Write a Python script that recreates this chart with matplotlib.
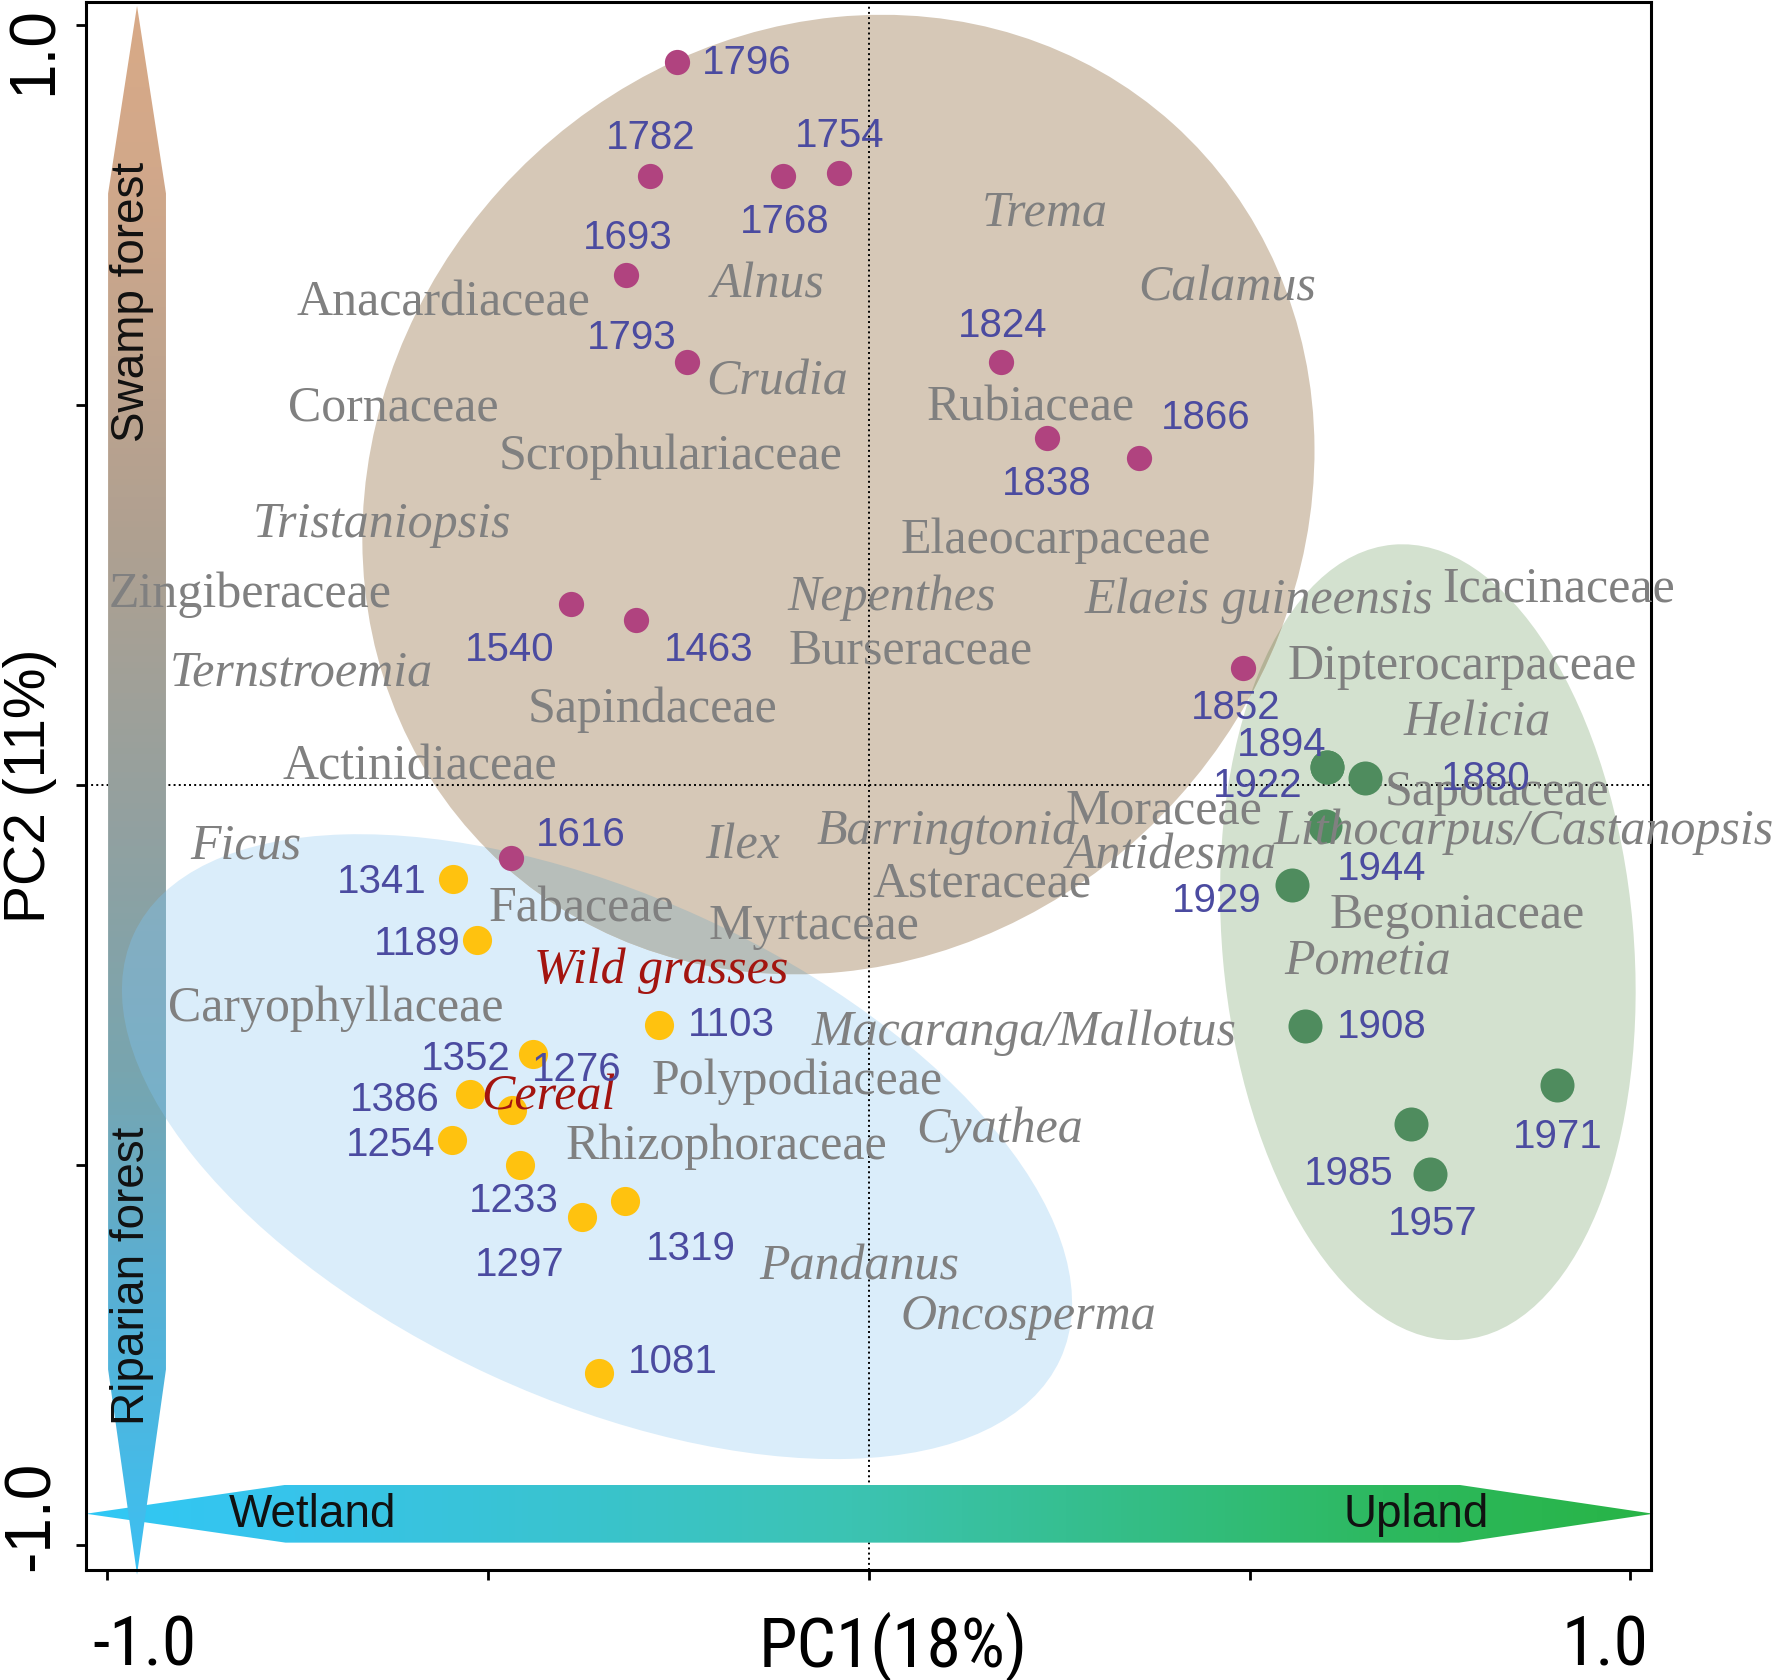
import numpy as np
import matplotlib as mpl
mpl.use('agg')
import matplotlib.pyplot as plt
from matplotlib.patches import Ellipse, Polygon
from matplotlib.colors import LinearSegmentedColormap
from matplotlib import font_manager
from matplotlib.font_manager import FontProperties

# ---- samples (PCA scores) ----
swamp_years = ['1796', '1782', '1768', '1754', '1693', '1793', '1824',
               '1838', '1866', '1540', '1463', '1852', '1616']
swamp_pc1 = [-0.252, -0.288, -0.113, -0.039, -0.319, -0.239, 0.173,
             0.234, 0.355, -0.391, -0.306, 0.491, -0.470]
swamp_pc2 = [0.951, 0.801, 0.801, 0.805, 0.671, 0.557, 0.557,
             0.457, 0.430, 0.238, 0.217, 0.154, -0.096]
swamp_lab_pc1 = [-0.161, -0.287, -0.110, -0.039, -0.316, -0.312, 0.175,
                 0.234, 0.442, -0.472, -0.210, 0.482, -0.379]
swamp_lab_pc2 = [0.955, 0.856, 0.746, 0.859, 0.725, 0.593, 0.609,
                 0.401, 0.488, 0.183, 0.183, 0.106, -0.061]

riparian_years = ['1341', '1189', '1103', '1352', '1386', '1276', '1254',
                  '1233', '1297', '1319', '1081']
riparian_pc1 = [-0.546, -0.515, -0.276, -0.441, -0.524, -0.469, -0.548,
                -0.458, -0.377, -0.320, -0.354]
riparian_pc2 = [-0.124, -0.204, -0.316, -0.354, -0.407, -0.428, -0.467,
                -0.500, -0.569, -0.548, -0.774]
riparian_lab_pc1 = [-0.639, -0.593, -0.181, -0.530, -0.622, -0.384, -0.628,
                    -0.466, -0.458, -0.234, -0.258]
riparian_lab_pc2 = [-0.123, -0.204, -0.311, -0.356, -0.409, -0.370, -0.469,
                    -0.542, -0.627, -0.606, -0.754]

upland_years = ['1894', '1922', '1880', '1944', '1929', '1908', '1971',
                '1985', '1957']
upland_pc1 = [0.601, 0.601, 0.651, 0.599, 0.555, 0.573, 0.904, 0.712, 0.737]
upland_pc2 = [0.024, 0.024, 0.009, -0.054, -0.132, -0.317, -0.395,
              -0.446, -0.512]
upland_lab_pc1 = [0.542, 0.510, 0.810, 0.673, 0.457, 0.673, 0.904,
                  0.630, 0.740]
upland_lab_pc2 = [0.058, 0.004, 0.013, -0.105, -0.147, -0.313, -0.458,
                  -0.507, -0.573]

# ---- taxa (loadings) ----
family_names = ['Anacardiaceae', 'Cornaceae', 'Scrophulariaceae',
                'Zingiberaceae', 'Sapindaceae', 'Actinidiaceae', 'Fabaceae',
                'Myrtaceae', 'Caryophyllaceae', 'Polypodiaceae',
                'Rhizophoraceae', 'Rubiaceae', 'Elaeocarpaceae',
                'Burseraceae', 'Asteraceae', 'Moraceae', 'Icacinaceae',
                'Dipterocarpaceae', 'Sapotaceae', 'Begoniaceae']
family_pc1 = [-0.558, -0.624, -0.261, -0.813, -0.284, -0.590, -0.378,
              -0.072, -0.700, -0.094, -0.187, 0.213, 0.245, 0.055, 0.148,
              0.388, 0.906, 0.779, 0.825, 0.772]
family_pc2 = [0.641, 0.503, 0.439, 0.257, 0.106, 0.031, -0.156, -0.180,
              -0.287, -0.383, -0.469, 0.503, 0.328, 0.183, -0.123, -0.027,
              0.265, 0.162, -0.003, -0.165]

genus_names = ['Trema', 'Calamus', 'Alnus', 'Crudia', 'Tristaniopsis',
               'Nepenthes', 'Elaeis guineensis', 'Ternstroemia', 'Helicia',
               'Ficus', 'Ilex', 'Barringtonia', 'Antidesma',
               'Lithocarpus/Castanopsis', 'Pometia', 'Macaranga/Mallotus',
               'Cyathea', 'Pandanus', 'Oncosperma']
genus_pc1 = [0.231, 0.470, -0.133, -0.121, -0.640, 0.030, 0.512, -0.745,
             0.799, -0.818, -0.166, 0.103, 0.397, 0.860, 0.655, 0.204,
             0.172, -0.012, 0.209]
genus_pc2 = [0.759, 0.660, 0.665, 0.537, 0.349, 0.253, 0.250, 0.154,
             0.088, -0.073, -0.073, -0.054, -0.087, -0.055, -0.225, -0.319,
             -0.446, -0.627, -0.692]

crop_names = ['Wild grasses', 'Cereal']
crop_pc1 = [-0.273, -0.421]
crop_pc2 = [-0.238, -0.404]

# fonts
sans = 'Liberation Sans'
serif = 'Liberation Serif'


def find_condensed():
    bad = ('bold', 'italic', 'oblique', 'light', 'thin', 'medium', 'black',
           'semi', 'extra')
    for want in ('Roboto Condensed', 'Liberation Sans Narrow',
                 'Open Sans Condensed', 'Noto Sans Condensed'):
        for f in font_manager.fontManager.ttflist:
            fn = f.fname.lower().split('/')[-1]
            if f.name == want and not any(b in fn for b in bad):
                return FontProperties(fname=f.fname), 50
    for f in font_manager.fontManager.ttflist:
        fn = f.fname.lower().split('/')[-1]
        if fn == 'dejavusanscondensed.ttf':
            return FontProperties(fname=f.fname), 45
    return FontProperties(family=sans), 44


cond_fp, cond_size = find_condensed()

fig = plt.figure(figsize=(17.82, 16.8), dpi=100)
ax = fig.add_axes([0.04826, 0.06548, 0.87823, 0.93333])

# group ellipses
blue_xy, blue_w, blue_h, blue_a = (-0.357, -0.476), 1.339, 0.663, -24.7
green_xy, green_w, green_h, green_a = (0.734, -0.207), 1.05, 0.54, 95
brown = Ellipse((-0.040, 0.382), 1.313, 1.197, angle=48,
                facecolor='#D6C8B7', edgecolor='none', zorder=1)
blue = Ellipse(blue_xy, blue_w, blue_h, angle=blue_a,
               facecolor='#DAEDFA', edgecolor='none', zorder=1)
green = Ellipse(green_xy, green_w, green_h, angle=green_a,
                facecolor='#D3E1CF', edgecolor='none', zorder=1)
for e in (blue, green, brown):
    ax.add_patch(e)

# overlaps look multiplied
ov1 = Ellipse(blue_xy, blue_w, blue_h, angle=blue_a,
              facecolor='#B7BEBA', edgecolor='none', zorder=1.1)
ax.add_patch(ov1)
ov1.set_clip_path(brown)
ov2 = Ellipse(green_xy, green_w, green_h, angle=green_a,
              facecolor='#B3B296', edgecolor='none', zorder=1.1)
ax.add_patch(ov2)
ov2.set_clip_path(brown)

ax.axvline(0, color='black', ls=':', lw=1.4, zorder=1.5)
ax.axhline(0, color='black', ls=':', lw=1.4, zorder=1.5)


def rgb(*c):
    return tuple(v / 255 for v in c)


def gradient_arrow(verts, stops, extent, vertical, zorder):
    poly = Polygon(verts, closed=True, facecolor='none', edgecolor='none')
    ax.add_patch(poly)
    cmap = LinearSegmentedColormap.from_list('g', stops)
    g = np.linspace(0, 1, 512)
    img = g[:, None] if vertical else g[None, :]
    im = ax.imshow(img, cmap=cmap, extent=extent, origin='lower',
                   aspect='auto', interpolation='bilinear', zorder=zorder)
    im.set_clip_path(poly)
    im.set_clip_box(fig.bbox)
    return poly


# horizontal arrow  Wetland -> Upland
hy, hw = -0.959, 0.038
gradient_arrow([(-1.028, hy), (-0.766, hy + hw), (0.775, hy + hw),
                (1.030, hy), (0.775, hy - hw), (-0.766, hy - hw)],
               [(0, rgb(48, 200, 245)), (0.13, rgb(55, 196, 235)),
                (0.49, rgb(60, 195, 178)), (0.83, rgb(45, 185, 95)),
                (1, rgb(40, 180, 70))],
               [-1.028, 1.030, hy - hw, hy + hw], False, 2)

# vertical arrow  Riparian forest -> Swamp forest
vx, vw = -0.961, 0.038
varrow = gradient_arrow(
    [(vx, 1.025), (vx + vw, 0.778), (vx + vw, -0.769),
     (vx, -1.039), (vx - vw, -0.769), (vx - vw, 0.778)],
    [(0, rgb(60, 192, 242)), (0.19, rgb(90, 175, 210)),
     (0.32, rgb(120, 165, 175)), (0.5, rgb(150, 160, 158)),
     (0.66, rgb(175, 160, 145)), (0.9, rgb(210, 168, 138)),
     (1, rgb(216, 170, 135))],
    [vx - vw, vx + vw, -1.039, 1.025], True, 2.5)

# the blue ellipse tints the arrow where they cross
tint = Ellipse(blue_xy, blue_w, blue_h, angle=blue_a, facecolor='#7EC2F0',
               alpha=0.38, edgecolor='none', zorder=2.6)
ax.add_patch(tint)
tint.set_clip_path(varrow)

ax.text(-0.731, -0.954, 'Wetland', family=sans, fontsize=33, color='#111111',
        ha='center', va='center_baseline', zorder=5)
ax.text(0.719, -0.954, 'Upland', family=sans, fontsize=33, color='#111111',
        ha='center', va='center_baseline', zorder=5)
ax.text(-0.967, 0.636, 'Swamp forest', family=sans, fontsize=33,
        color='#111111', rotation=90, ha='center', va='center', zorder=5)
ax.text(-0.968, -0.646, 'Riparian forest', family=sans, fontsize=33,
        color='#111111', rotation=90, ha='center', va='center', zorder=5)

# sample points
ax.scatter(swamp_pc1, swamp_pc2, s=330, color='#B0437F', lw=0, zorder=3)
ax.scatter(riparian_pc1, riparian_pc2, s=440, color='#FFC20F', lw=0, zorder=3)
ax.scatter(upland_pc1, upland_pc2, s=600, color='#4F8C5E', lw=0, zorder=3)

lab_col = '#4B4BA0'
for names, xs, ys in ((swamp_years, swamp_lab_pc1, swamp_lab_pc2),
                      (riparian_years, riparian_lab_pc1, riparian_lab_pc2),
                      (upland_years, upland_lab_pc1, upland_lab_pc2)):
    for n, x, y in zip(names, xs, ys):
        ax.text(x, y, n, family=sans, fontsize=29, color=lab_col,
                ha='center', va='center_baseline', zorder=6)

gray = '#808080'
for n, x, y in zip(family_names, family_pc1, family_pc2):
    ax.text(x, y, n, family=serif, fontsize=36, color=gray,
            ha='center', va='center_baseline', zorder=5)
for n, x, y in zip(genus_names, genus_pc1, genus_pc2):
    ax.text(x, y, n, family=serif, style='italic', fontsize=36, color=gray,
            ha='center', va='center_baseline', zorder=5)
for n, x, y in zip(crop_names, crop_pc1, crop_pc2):
    ax.text(x, y, n, family=serif, style='italic', fontsize=36,
            color='#A3140F', ha='center', va='center_baseline', zorder=5)

ax.set_xlim(-1.028, 1.027)
ax.set_ylim(-1.033, 1.030)
ax.set_xticks([-1, -0.5, 0, 0.5, 1])
ax.set_yticks([-1, -0.5, 0, 0.5, 1])
ax.tick_params(direction='out', length=7, width=2, labelbottom=False,
               labelleft=False, top=False, right=False)
for sp in ax.spines.values():
    sp.set_linewidth(2.2)

# axis labels and end tick labels
ax.set_xlabel('PC1(18%)', fontproperties=cond_fp, fontsize=cond_size,
              va='center')
ax.xaxis.set_label_coords(0.516, -0.049)
ax.set_ylabel('PC2 (11%)', family=sans, fontsize=41, va='center')
ax.yaxis.set_label_coords(-0.036, 0.5)
xt = ax.get_xaxis_transform()
yt = ax.get_yaxis_transform()
for v, s in ((-0.951, '-1.0'), (0.967, '1.0')):
    ax.text(v, -0.049, s, transform=xt, fontproperties=cond_fp,
            fontsize=cond_size, ha='center', va='center')
ax.text(-0.033, 0.966, '1.0', transform=yt, family=sans, fontsize=46,
        rotation=90, ha='center', va='center')
ax.text(-0.035, -0.962, '-1.0', transform=yt, family=sans, fontsize=46,
        rotation=90, ha='center', va='center')

fig.savefig('out.png', dpi=100)
